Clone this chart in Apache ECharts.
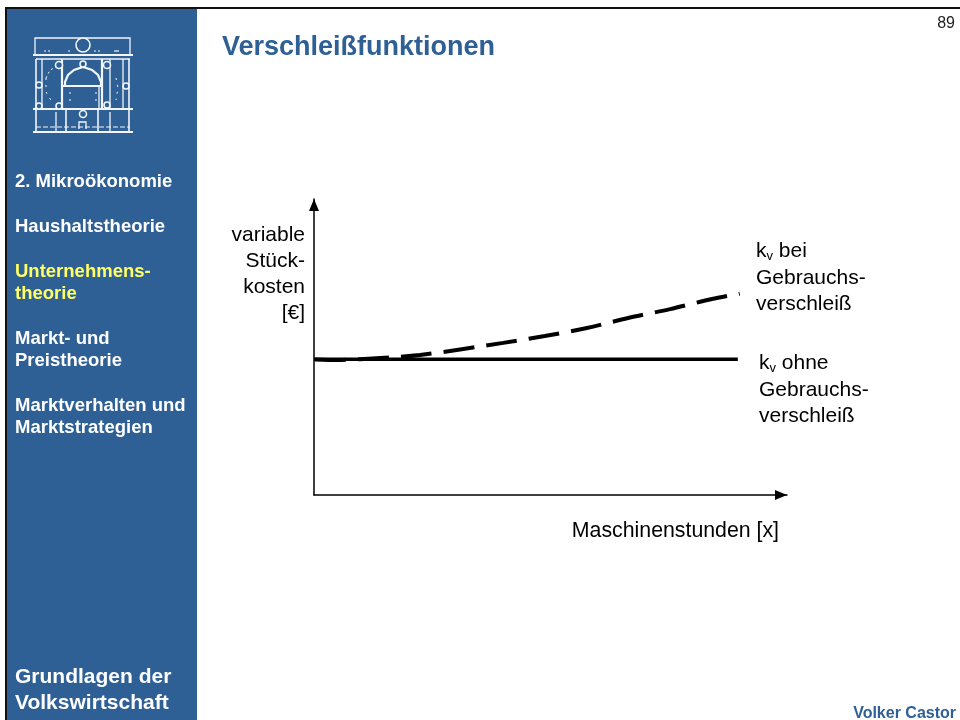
<!DOCTYPE html>
<html>
<head>
<meta charset="utf-8">
<style>html,body{margin:0;padding:0;background:#fff}#chart{width:960px;height:720px}</style>
<script src="https://cdn.jsdelivr.net/npm/echarts@6/dist/echarts.min.js"></script>
</head>
<body>
<div id="chart"></div>
<script>
// values, both axes scaled 0-100 (no units shown)
var wearHours = [0, 5, 9.7, 22.4, 40, 48.8, 57.7, 66.4, 75.3, 84.1, 90];
var wearCosts = [45.8, 45.6, 45.9, 47.3, 51.4, 53.7, 56.4, 59.8, 62.8, 66.2, 68];
var flatHours = [0, 89.6];
var flatCosts = [45.9, 45.9];

var navItems = [
    ['2. Mikroökonomie', 181, '#fff'],
    ['Haushaltstheorie', 226, '#fff'],
    ['Unternehmens-', 271, '#ffff66'],
    ['theorie', 293, '#ffff66'],
    ['Markt- und', 338, '#fff'],
    ['Preistheorie', 360, '#fff'],
    ['Marktverhalten und', 405, '#fff'],
    ['Marktstrategien', 427, '#fff']
];

var BLUE = '#2e6096';
var FONT = '"Liberation Sans", Arial, sans-serif';

function pairs(xs, ys) {
    return xs.map(function (x, i) { return [x, ys[i]]; });
}

function txt(s, x, y, size, color, weight, align) {
    return {
        type: 'text', z: 10,
        style: {
            text: s, x: x, y: y + 1, fill: color, align: align || 'left', verticalAlign: 'middle',
            font: (weight || 'normal') + ' ' + size + 'px ' + FONT
        }
    };
}

function kvLabel(tail, x, y) {
    return {
        type: 'text', z: 10,
        style: {
            x: x, y: y + 1, verticalAlign: 'middle', fill: '#000',
            text: '{k|k}{v|v}{k| ' + tail + '}',
            rich: {
                k: { fontFamily: FONT, fontSize: 21, fill: '#000' },
                v: { fontFamily: FONT, fontSize: 13, fill: '#000', verticalAlign: 'bottom', padding: [10, 0, 0, 0] }
            }
        }
    };
}

// the building emblem in the sidebar
function logoLine(points, w, dash) {
    return {
        type: 'polyline', z: 5,
        shape: { points: points },
        style: { stroke: '#f2f5f9', lineWidth: w || 1.3, fill: null, lineDash: dash || null }
    };
}
function logoRing(x, y, r) {
    return { type: 'circle', z: 5, shape: { cx: x, cy: y, r: r }, style: { stroke: '#f2f5f9', lineWidth: 1.6, fill: BLUE } };
}
var logo = [
    logoLine([[35, 55], [35, 38], [130, 38], [130, 55]]),
    logoLine([[33, 55], [133, 55]], 2),
    logoLine([[36, 59], [130, 59]]),
    logoLine([[36, 59], [36, 132]], 1.6),
    logoLine([[129, 59], [129, 132]], 1.6),
    logoLine([[42, 59], [42, 109]]),
    logoLine([[123, 59], [123, 109]]),
    logoLine([[62, 59], [62, 109]], 2.2),
    logoLine([[102, 59], [102, 109]], 2.2),
    logoLine([[110, 59], [110, 109]]),
    logoLine([[33, 109], [133, 109]], 2),
    logoLine([[33, 132], [133, 132]], 2),
    logoLine([[63, 86], [101, 86]], 2),
    logoLine([[65, 86], [65, 82], [68, 75], [74, 70], [83, 67], [92, 70], [98, 75], [101, 82], [101, 86]], 2.2),
    logoLine([[99, 86], [99, 109]]),
    logoLine([[66, 109], [66, 132]], 1.6),
    logoLine([[98, 109], [98, 132]], 1.6),
    logoLine([[56, 112], [56, 132]]),
    logoLine([[110, 112], [110, 132]]),
    logoLine([[36, 127], [130, 127]], 1, [5, 2]),
    logoLine([[79, 129], [79, 122], [86, 122], [86, 129]]),
    logoLine([[44, 51], [52, 51]], 1, [2, 2]),
    logoLine([[68, 51], [72, 51]], 1, [2, 2]),
    logoLine([[94, 51], [102, 51]], 1, [2, 2]),
    logoLine([[114, 51], [119, 51]], 1.2),
    logoLine([[46, 78], [50, 70], [56, 67]], 1, [2, 3]),
    logoLine([[46, 78], [46, 92], [52, 102]], 1, [2, 5]),
    logoLine([[116, 78], [118, 88], [116, 100]], 1, [2, 5]),
    logoLine([[70, 92], [70, 104]], 1, [2, 5]),
    logoLine([[96, 92], [96, 104]], 1, [2, 5]),
    logoRing(83, 45, 7), logoRing(59, 65, 3.5), logoRing(107, 65, 3.5),
    logoRing(39, 85, 3), logoRing(126, 86, 3), logoRing(39, 106, 3), logoRing(59, 106, 3),
    logoRing(107, 105, 3), logoRing(83, 114, 3.5), logoRing(83, 64, 3)
];

var elements = [
    { type: 'rect', shape: { x: 5, y: 7, width: 955, height: 2 }, style: { fill: '#111' } },
    { type: 'rect', shape: { x: 5, y: 7, width: 2, height: 713 }, style: { fill: '#111' } },
    { type: 'rect', shape: { x: 7, y: 9, width: 190, height: 711 }, style: { fill: BLUE } },
    txt('89', 955, 23, 16, '#222', 'normal', 'right'),
    txt('Verschleißfunktionen', 222, 47, 27, BLUE, 'bold'),
    txt('Grundlagen der', 15, 676, 21, '#fff', 'bold'),
    txt('Volkswirtschaft', 15, 702, 21, '#fff', 'bold'),
    txt('Volker Castor', 956, 713, 16, BLUE, 'bold', 'right'),
    txt('variable', 305, 234, 21, '#000', 'normal', 'right'),
    txt('Stück-', 305, 260, 21, '#000', 'normal', 'right'),
    txt('kosten', 305, 286, 21, '#000', 'normal', 'right'),
    txt('[€]', 305, 312, 21, '#000', 'normal', 'right'),
    kvLabel('bei', 756, 250),
    txt('Gebrauchs-', 756, 277, 21, '#000'),
    txt('verschleiß', 756, 303, 21, '#000'),
    kvLabel('ohne', 759, 362),
    txt('Gebrauchs-', 759, 389, 21, '#000'),
    txt('verschleiß', 759, 415, 21, '#000'),
    txt('Maschinenstunden [x]', 779, 530, 21.3, '#000', 'normal', 'right')
].concat(logo);

navItems.forEach(function (n) {
    elements.push(txt(n[0], 15, n[1], 18.5, n[2], 'bold'));
});

var myChart = echarts.init(document.getElementById('chart'));
var axisLine = {
    show: true,
    symbol: ['none', 'triangle'],
    symbolSize: [10, 12],
    symbolOffset: [0, -6],
    lineStyle: { color: '#000', width: 1.5 }
};
var option = {
    animation: false,
    backgroundColor: '#fff',
    grid: { left: 314, top: 199, width: 473, height: 296, containLabel: false },
    xAxis: {
        type: 'value', min: 0, max: 100,
        axisLine: axisLine, axisTick: { show: false }, axisLabel: { show: false }, splitLine: { show: false }
    },
    yAxis: {
        type: 'value', min: 0, max: 100,
        axisLine: axisLine, axisTick: { show: false }, axisLabel: { show: false }, splitLine: { show: false }
    },
    graphic: { elements: elements },
    series: [
        {
            name: 'kv bei Gebrauchsverschleiß',
            type: 'line',
            smooth: 0.3,
            showSymbol: false,
            data: pairs(wearHours, wearCosts),
            lineStyle: { color: '#000', width: 4, type: [31, 12], dashOffset: -1, cap: 'butt' }
        },
        {
            name: 'kv ohne Gebrauchsverschleiß',
            type: 'line',
            showSymbol: false,
            data: pairs(flatHours, flatCosts),
            lineStyle: { color: '#000', width: 3.5 }
        }
    ]
};
myChart.setOption(option);
</script>
</body>
</html>
